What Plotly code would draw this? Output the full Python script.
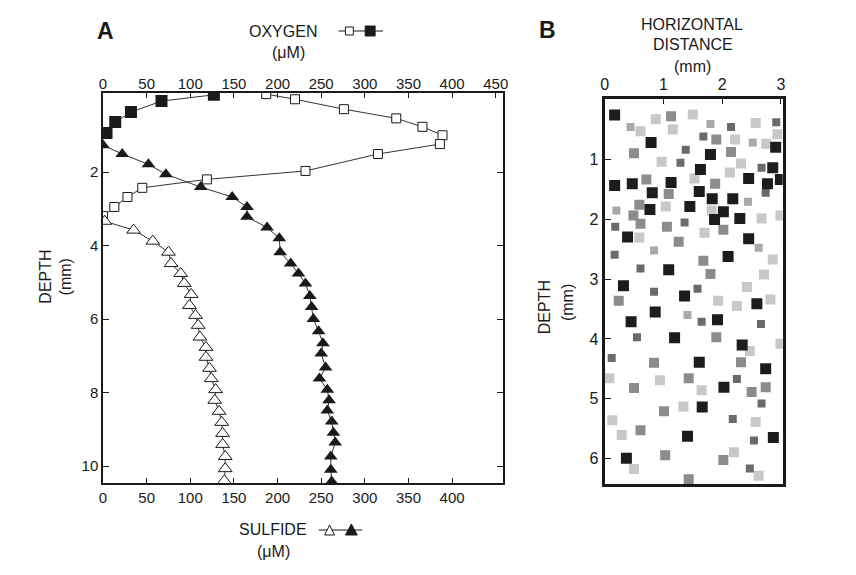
import plotly.graph_objects as go

# the page body has an 8px margin, so the figure is drawn 8px smaller and
# screen positions are converted with that offset
OFF = 8
W, H = 856 - OFF, 575 - OFF

# Panel A: oxygen and sulfide profiles (uM vs depth in mm)
o2_open_depth = [-0.12, 0.02, 0.29, 0.54, 0.77, 1.0, 1.24, 1.51, 1.97, 2.2, 2.43, 2.68, 2.95, 3.2]
o2_open = [187, 220, 276, 336, 366, 389, 386, 315, 232, 119, 45, 28, 13, 0]

o2_filled_depth = [-0.1, 0.07, 0.37, 0.64, 0.94]
o2_filled = [127, 67, 32, 14, 4]

h2s_filled_depth = [1.27, 1.51, 1.79, 2.06, 2.41, 2.68, 2.95, 3.22, 3.51, 3.8, 4.18, 4.49, 4.76, 5.03,
                    5.37, 5.67, 6.0, 6.33, 6.66, 6.94, 7.32, 7.62, 7.92, 8.21, 8.49, 8.79, 9.09, 9.36,
                    9.74, 10.1, 10.42]
h2s_filled = [0, 22, 52, 72, 112, 148, 165, 165, 188, 202, 203, 215, 224, 232, 237, 239, 241, 247,
              252, 250, 255, 248, 257, 259, 257, 262, 264, 266, 261, 261, 262]

h2s_open_depth = [3.34, 3.58, 3.88, 4.18, 4.49, 4.76, 5.03, 5.33, 5.63, 5.9, 6.17, 6.49, 6.77, 7.04,
                  7.34, 7.62, 7.92, 8.21, 8.51, 8.81, 9.11, 9.41, 9.74, 10.07, 10.4]
h2s_open = [2, 35, 57, 75, 78, 89, 93, 101, 99, 106, 109, 111, 118, 118, 122, 124, 129, 128, 133,
            136, 137, 137, 140, 140, 139]

top_ticks = [0, 50, 100, 150, 200, 250, 300, 350, 400, 450]
bottom_ticks = [0, 50, 100, 150, 200, 250, 300, 350, 400]
depth_ticks_a = [2, 4, 6, 8, 10]

# Panel B: squares by grey shade (horizontal distance mm, depth mm)
black_x = [0.17, 0.79, 2.91, 1.80, 1.63, 2.86, 0.17, 0.47, 1.13, 2.45, 2.77, 2.99, 0.81, 1.61, 1.83,
           2.18, 0.77, 1.45, 2.02, 1.87, 2.30, 0.39, 2.45, 2.10, 1.09, 0.32, 1.36, 2.59, 0.86, 0.45,
           1.92, 1.19, 2.34, 1.61, 2.74, 2.03, 1.66, 1.41, 2.87, 0.37]
black_d = [0.25, 0.71, 0.79, 0.91, 1.16, 1.13, 1.43, 1.40, 1.38, 1.31, 1.40, 1.33, 1.55, 1.53, 1.65,
           1.65, 1.83, 1.78, 1.87, 2.00, 1.98, 2.29, 2.32, 2.62, 2.84, 3.11, 3.28, 3.41, 3.55, 3.71,
           3.68, 3.98, 4.10, 4.39, 4.50, 4.81, 5.14, 5.63, 5.65, 6.00]

dark_x = [2.15, 2.92, 1.68, 1.38, 1.29, 2.67, 2.74, 0.18, 1.36, 0.17, 0.61, 1.58, 0.84, 1.65, 2.66,
          0.55, 0.12, 2.25, 2.67, 2.18, 2.54, 2.47]
dark_d = [0.45, 0.37, 0.61, 0.83, 1.05, 1.13, 1.55, 2.12, 2.05, 2.59, 2.82, 3.16, 3.21, 3.71, 3.75,
          3.97, 4.32, 4.67, 5.08, 5.34, 5.70, 6.17]

mid_x = [1.13, 1.90, 0.50, 2.15, 0.71, 1.88, 1.09, 0.59, 0.49, 0.61, 1.06, 2.02, 1.26, 1.68, 1.80,
         0.24, 1.90, 0.84, 2.32, 1.43, 0.50, 2.50, 2.74, 1.01, 0.61, 1.03, 2.02, 1.43]
mid_d = [0.27, 0.66, 0.89, 0.87, 1.33, 1.40, 1.57, 1.75, 1.93, 2.07, 2.12, 2.17, 2.37, 2.69, 2.91,
         3.36, 3.97, 4.40, 4.39, 4.66, 4.82, 4.89, 4.81, 5.21, 5.53, 5.95, 6.03, 6.35]

pale_x = [0.44, 1.80, 2.52, 0.20, 2.44, 0.84, 2.62, 1.41]
pale_d = [0.45, 0.40, 0.71, 1.85, 1.70, 2.52, 2.47, 3.60]

light_x = [1.50, 0.87, 0.61, 1.16, 2.57, 2.94, 2.22, 2.75, 0.97, 2.32, 2.13, 1.53, 1.04, 1.82, 2.67,
           2.99, 1.70, 0.59, 2.86, 2.71, 2.42, 1.93, 2.25, 2.82, 2.47, 2.99, 0.08, 0.94, 1.65, 1.34,
           0.13, 2.57, 0.29, 2.20, 0.50, 2.62]
light_d = [0.24, 0.32, 0.52, 0.49, 0.38, 0.57, 0.66, 0.73, 1.03, 1.06, 1.21, 1.31, 1.78, 1.85, 1.98,
           1.93, 2.22, 2.30, 2.67, 2.92, 3.13, 3.36, 3.45, 3.34, 4.20, 4.08, 4.66, 4.69, 4.86, 5.13,
           5.36, 5.39, 5.61, 5.90, 6.18, 6.29]

FONT = "Arial, Liberation Sans, sans-serif"
INK = "#1a1a1a"
LINE = "#333333"


def px(x):
    return (x - OFF) / W


def py(y):
    return 1 - (y - OFF) / H


fig = go.Figure()

# panel A curves
fig.add_trace(go.Scatter(x=o2_open, y=o2_open_depth, mode="lines+markers", xaxis="x", yaxis="y",
                         line=dict(color=LINE, width=1),
                         marker=dict(symbol="square", size=9, color="white", line=dict(color=INK, width=1))))
fig.add_trace(go.Scatter(x=o2_filled, y=o2_filled_depth, mode="lines+markers", xaxis="x", yaxis="y",
                         line=dict(color=LINE, width=1),
                         marker=dict(symbol="square", size=12, color=INK)))
fig.add_trace(go.Scatter(x=h2s_filled, y=h2s_filled_depth, mode="lines+markers", xaxis="x", yaxis="y",
                         line=dict(color=LINE, width=1),
                         marker=dict(symbol="triangle-up", size=12, color=INK)))
fig.add_trace(go.Scatter(x=h2s_open, y=h2s_open_depth, mode="lines+markers", xaxis="x", yaxis="y",
                         line=dict(color=LINE, width=1),
                         marker=dict(symbol="triangle-up", size=12, color="white", line=dict(color=INK, width=1))))

# panel B squares
for xs, ds, col, sz in [(light_x, light_d, "#c8c8c8", 10), (pale_x, pale_d, "#a9a9a9", 8),
                        (mid_x, mid_d, "#8c8c8c", 10), (dark_x, dark_d, "#6a6a6a", 8),
                        (black_x, black_d, "#1c1c1c", 11)]:
    fig.add_trace(go.Scatter(x=xs, y=ds, mode="markers", xaxis="x3", yaxis="y3",
                             marker=dict(symbol="square", size=sz, color=col, line=dict(width=0))))

tickfont = dict(family=FONT, size=15, color=INK)
dom_ax = [px(100), px(504)]
dom_ay = [py(483), py(93)]
dom_bx = [px(607), px(787)]
dom_by = [py(484), py(99)]

fig.update_layout(
    width=W, height=H, showlegend=False,
    margin=dict(l=0, r=0, t=0, b=0),
    paper_bgcolor="white", plot_bgcolor="white",
    xaxis=dict(domain=dom_ax, range=[0, 458], anchor="y", side="bottom",
               tickvals=bottom_ticks, ticks="inside", ticklen=5, tickcolor=INK,
               showline=True, linecolor=INK, linewidth=1.5, mirror=True,
               showgrid=False, zeroline=False, tickfont=tickfont),
    xaxis2=dict(domain=dom_ax, range=[0, 458], anchor="y", overlaying="x", side="top",
                tickvals=top_ticks, ticks="inside", ticklen=5, tickcolor=INK,
                showline=False, showgrid=False, zeroline=False, tickfont=tickfont),
    yaxis=dict(domain=dom_ay, range=[10.46, -0.15], anchor="x",
               tickvals=depth_ticks_a, ticks="inside", ticklen=6, tickcolor=INK,
               showline=True, linecolor=INK, linewidth=1.5, mirror="ticks",
               showgrid=False, zeroline=False, tickfont=tickfont),
    xaxis3=dict(domain=dom_bx, range=[0, 3.03], anchor="y3", side="top",
                tickvals=[0, 1, 2, 3], ticks="inside", ticklen=5, tickcolor=INK,
                showline=True, linecolor=INK, linewidth=3, mirror=True,
                showgrid=False, zeroline=False, tickfont=dict(family=FONT, size=16, color=INK)),
    yaxis3=dict(domain=dom_by, range=[6.43, -0.02], anchor="x3",
                tickvals=[1, 2, 3, 4, 5, 6], ticks="inside", ticklen=6, tickcolor=INK,
                showline=True, linecolor=INK, linewidth=3, mirror=True,
                showgrid=False, zeroline=False, tickfont=dict(family=FONT, size=16, color=INK)),
)

# xaxis2 needs a trace to show up
fig.add_trace(go.Scatter(x=[0], y=[0], xaxis="x2", yaxis="y", mode="markers",
                         marker=dict(opacity=0), hoverinfo="skip"))

lab = dict(family=FONT, size=16, color=INK)
notes = [
    ("<b>A</b>", 103, 31, 0, dict(family=FONT, size=23, color=INK)),
    ("<b>B</b>", 549, 30, 0, dict(family=FONT, size=23, color=INK)),
    ("OXYGEN", 282, 31, 0, lab),
    ("(μM)", 287, 52, 0, lab),
    ("SULFIDE", 272, 529, 0, lab),
    ("(μM)", 272, 551, 0, lab),
    ("HORIZONTAL", 695, 25, 0, lab),
    ("DISTANCE", 696, 44, 0, lab),
    ("(mm)", 696, 66, 0, lab),
    ("DEPTH", 42, 277, -90, lab),
    ("(mm)", 63, 277, -90, lab),
    ("DEPTH", 546, 307, -90, lab),
    ("(mm)", 569, 303, -90, lab),
]
for text, x, y, ang, f in notes:
    fig.add_annotation(text=text, x=px(x), y=py(y), xref="paper", yref="paper",
                       showarrow=False, textangle=ang, font=f, xanchor="center", yanchor="middle")

# legend keys next to OXYGEN and SULFIDE
shapes = [
    dict(type="line", x0=px(338), x1=px(383), y0=py(31), y1=py(31), line=dict(color=INK, width=1)),
    dict(type="rect", x0=px(345), x1=px(353), y0=py(35), y1=py(27),
         fillcolor="white", line=dict(color=INK, width=1)),
    dict(type="rect", x0=px(365), x1=px(375), y0=py(36), y1=py(26),
         fillcolor=INK, line=dict(color=INK, width=1)),
    dict(type="line", x0=px(318), x1=px(362), y0=py(530), y1=py(530), line=dict(color=INK, width=1)),
    dict(type="path", path=f"M {px(324)} {py(535)} L {px(334)} {py(535)} L {px(329)} {py(525)} Z",
         fillcolor="white", line=dict(color=INK, width=1)),
    dict(type="path", path=f"M {px(345)} {py(535)} L {px(357)} {py(535)} L {px(351)} {py(524)} Z",
         fillcolor=INK, line=dict(color=INK, width=1)),
]
for s in shapes:
    s.update(xref="paper", yref="paper")
    fig.add_shape(**s)

fig.write_html("out.html")
